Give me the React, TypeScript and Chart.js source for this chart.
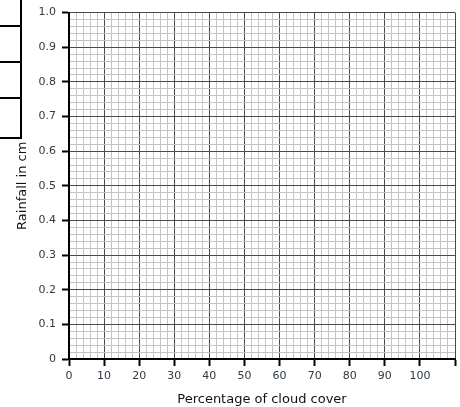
import React, { useEffect, useRef } from "react";
import { Chart, registerables } from "chart.js";

Chart.register(...registerables);

const xMin = 0;
const xMax = 110;
const xStep = 2;
const xLabeledTicks = [0, 10, 20, 30, 40, 50, 60, 70, 80, 90, 100];
const yMin = 0;
const yMax = 1;
const yStep = 0.02;
const yLabels: Record<string, string> = {
  "0": "0", "0.1": "0.1", "0.2": "0.2", "0.3": "0.3", "0.4": "0.4", "0.5": "0.5",
  "0.6": "0.6", "0.7": "0.7", "0.8": "0.8", "0.9": "0.9", "1": "1.0",
};
const xTitle = "Percentage of cloud cover";
const yTitle = "Rainfall in cm";

const FONT = "'DejaVu Sans', Verdana, sans-serif";
const MAJOR = "#4a4a4a";
const MINOR = "#c4c4c4";
const TICK_TEXT = "#2f3a45";

const isMajorX = (v: number) => Math.abs(v / 10 - Math.round(v / 10)) < 1e-6;
const isMajorY = (v: number) => Math.abs(v * 10 - Math.round(v * 10)) < 1e-6;

export default function App() {
  const ref = useRef<HTMLCanvasElement>(null);
  useEffect(() => {
    document.body.style.margin = "0";
    const ctx = ref.current!;
    const chart = new Chart(ctx, {
      type: "scatter",
      data: { datasets: [{ data: [], showLine: false }] },
      options: {
        animation: false,
        responsive: false,
        maintainAspectRatio: false,
        layout: { padding: { top: 9, right: 5, left: 0, bottom: 0 } },
        plugins: { legend: { display: false }, tooltip: { enabled: false } },
        scales: {
          x: {
            type: "linear",
            min: xMin,
            max: xMax,
            afterBuildTicks: (scale: any) => {
              const t = [];
              for (let v = xMin; v <= xMax + 1e-9; v += xStep) t.push({ value: Math.round(v * 100) / 100 });
              scale.ticks = t;
            },
            afterFit: (scale: any) => { scale.height = 48; },
            border: { display: true, color: "#000", width: 2 },
            grid: {
              color: (c: any) => (isMajorX(c.tick.value) ? MAJOR : MINOR),
              tickColor: (c: any) => (isMajorX(c.tick.value) ? "#000" : "rgba(0,0,0,0)"),
              lineWidth: 1,
              tickWidth: 2,
              tickLength: 7,
            },
            ticks: {
              autoSkip: false,
              maxRotation: 0,
              padding: 4,
              color: TICK_TEXT,
              font: { family: FONT, size: 11 },
              callback: (v: any) => (xLabeledTicks.includes(Number(v)) ? String(v) : ""),
            },
            title: {
              display: true,
              text: xTitle,
              color: "#111",
              font: { family: FONT, size: 13 },
              padding: { top: 6, bottom: 0 },
            },
          },
          y: {
            type: "linear",
            min: yMin,
            max: yMax,
            afterBuildTicks: (scale: any) => {
              const t = [];
              for (let i = 0; i <= Math.round((yMax - yMin) / yStep); i++) t.push({ value: Math.round((yMin + i * yStep) * 100) / 100 });
              scale.ticks = t;
            },
            afterFit: (scale: any) => { scale.width = 69; },
            border: { display: true, color: "#000", width: 2 },
            grid: {
              color: (c: any) => (isMajorY(c.tick.value) ? MAJOR : MINOR),
              tickColor: (c: any) => (isMajorY(c.tick.value) ? "#000" : "rgba(0,0,0,0)"),
              lineWidth: 1,
              tickWidth: 2,
              tickLength: 7,
            },
            ticks: {
              autoSkip: false,
              padding: 6,
              color: TICK_TEXT,
              font: { family: FONT, size: 11 },
              callback: (v: any) => yLabels[String(Math.round(Number(v) * 100) / 100)] ?? "",
            },
            title: {
              display: true,
              text: yTitle,
              color: "#111",
              font: { family: FONT, size: 13 },
              padding: { top: 15, bottom: 4 },
            },
          },
        },
      },
    });
    return () => chart.destroy();
  }, []);

  const line = (s: React.CSSProperties) => (
    <div style={{ position: "absolute", background: "#000", ...s }} />
  );

  return (
    <div style={{ position: "absolute", left: 0, top: 0, width: 460, height: 407, background: "#fff" }}>
      <canvas ref={ref} width={460} height={407} style={{ position: "absolute", left: 0, top: 0, width: 460, height: 407 }} />
      {line({ left: 20, top: 0, width: 2, height: 139 })}
      {line({ left: 0, top: 25, width: 22, height: 2 })}
      {line({ left: 0, top: 61, width: 22, height: 2 })}
      {line({ left: 0, top: 97, width: 22, height: 2 })}
      {line({ left: 0, top: 137, width: 22, height: 2 })}
    </div>
  );
}
